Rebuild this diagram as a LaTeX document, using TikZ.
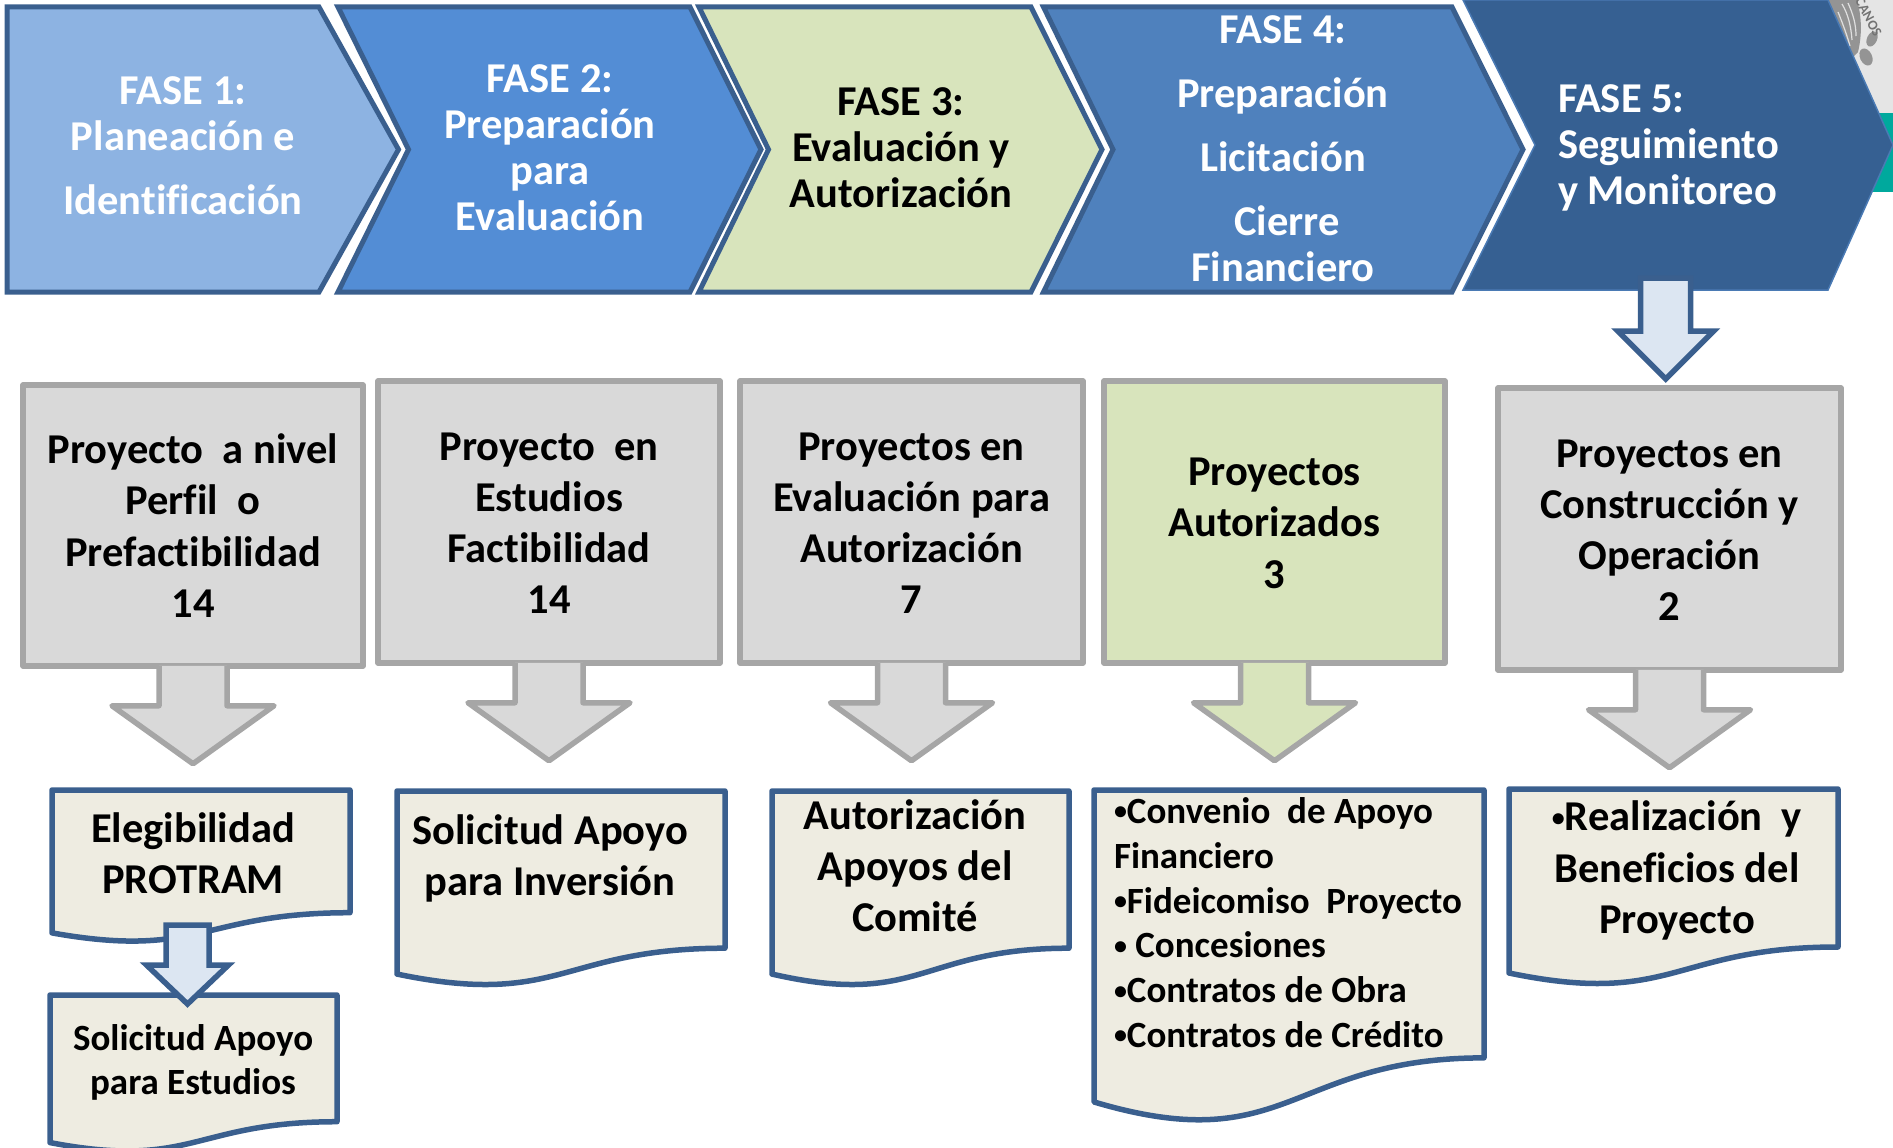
\documentclass[tikz,border=0pt]{standalone}
\usepackage{fontspec}
\setmainfont[Ligatures=CommonOff]{Carlito}
\definecolor{bordeazul}{HTML}{3A5F8E}
\definecolor{fase1}{HTML}{8DB3E2}
\definecolor{fase2}{HTML}{538DD5}
\definecolor{fase3}{HTML}{D8E4BC}
\definecolor{fase4}{HTML}{4F81BD}
\definecolor{fase5}{HTML}{366092}
\definecolor{gris}{HTML}{D9D9D9}
\definecolor{bordegris}{HTML}{A6A6A6}
\definecolor{papel}{HTML}{EEECE1}
\definecolor{flecha}{HTML}{DCE6F2}
\definecolor{verde}{HTML}{00A99D}
\tikzset{
  x=1pt,y=-1pt,
  chevron/.style={draw=bordeazul,line width=5pt,line join=miter},
  fasetxt/.style={font=\fontsize{42.5}{46}\selectfont\bfseries,align=center,text=white},
  grisbox/.style={draw=bordegris,fill=gris,line width=5.5pt,line join=round,inner sep=0pt},
  cajatxt/.style={align=center,font=\fontsize{42.5}{51.2}\selectfont\bfseries},
  doc/.style={draw=bordeazul,fill=papel,line width=5.5pt,line join=round},
  doctxt/.style={font=\fontsize{42.5}{51.2}\selectfont\bfseries,align=center},
  grisflecha/.style={draw=bordegris,fill=gris,line width=5.5pt,line join=round},
  azulflecha/.style={draw=bordeazul,fill=flecha,line width=5.5pt,line join=miter},
  sellotrazo/.style={draw=black!12,line width=1.2pt},
}
\newcommand\bul{\raisebox{0.1em}{\fontsize{26}{26}\selectfont •}}
\newcommand\chevronshape[5]{% fill l notch r tip
  \draw[chevron,fill=#1] (#2,7)--(#4,7)--(#5,149.5)--(#4,292)--(#2,292)--(#3,149.5)--cycle;}
\newcommand\docshape[5]{% name l t r h
  \draw[doc] (#2,#3)--(#4,#3)--(#4,{#3+0.802*#5})
    .. controls ({(#2+#4)/2},{#3+0.802*#5}) and ({(#2+#4)/2},{#3+1.1075*#5}) .. (#2,{#3+0.934*#5})--cycle;
  \coordinate (#1) at ({(#2+#4)/2},#3);}
\newcommand\blockarrow[6]{% style anchor halfshaft halfhead headstart tip
  \draw[#1,shift={(#2)}] (-#3,0)--(-#3,#5)--(-#4,#5)--(0,#6)--(#4,#5)--(#3,#5)--(#3,0)--cycle;}
\newcommand\openarrow[6]{% same, with no line across the top, and its fill over the box border
  \draw[#1,shift={(#2)}] (-#3,-3)--(-#3,#5)--(-#4,#5)--(0,#6)--(#4,#5)--(#3,#5)--(#3,-3);}
\begin{document}
\begin{tikzpicture}
\useasboundingbox (0,0) rectangle (1893,1148);
% fondo de la esquina
\fill[black!10] (1700,0) rectangle (1893,113);
\fill[verde] (1700,113) rectangle (1893,192);
% sello
\fill[black!42] (1825,0)--(1857,0) .. controls (1862,18) and (1862,35) .. (1858,52) -- (1852,58) -- cycle;
\draw[sellotrazo] (1842,4) .. controls (1848,14) and (1851,26) .. (1852,40);
\draw[sellotrazo] (1848,3) .. controls (1853,14) and (1856,24) .. (1856,36);
\draw[sellotrazo] (1838,12) .. controls (1842,22) and (1846,32) .. (1850,46);
\fill[black!42,rotate around={-25:(1872,39)}] (1872,39) ellipse (5pt and 8pt);
\fill[black!42,rotate around={25:(1866,57)}] (1866,57) ellipse (6pt and 9pt);
\node[rotate=-62,text=black!55,font=\fontsize{14}{14}\selectfont\bfseries,inner sep=0pt] (sello) at (1868.5,17) {CANOS};
% fases
\draw[chevron,fill=fase1] (7,7)--(319,7)--(398.5,149.5)--(319,292)--(7,292)--cycle;
\chevronshape{fase2}{338}{408.5}{690}{761}
\chevronshape{fase3}{699}{768.5}{1031}{1102}
\chevronshape{fase4}{1043.5}{1113}{1452}{1523}
\draw[draw=fase4!80!fase5,line width=1.5pt,fill=fase5] (1463,0)--(1828,0)--(1893,145)--(1828,290)--(1463,290)--(1535,145)--cycle;
\node[fasetxt] (t1) at (183,146) {FASE 1:\\Planeación e\\[18pt]Identificación};
\node[fasetxt] (t2) at (550,148) {FASE 2:\\Preparación\\para\\Evaluación};
\node[fasetxt,text=black] (t3) at (901,148) {FASE 3:\\Evaluación y\\Autorización};
\node[fasetxt] (t4) at (1283,149) {FASE 4:\\[18pt]Preparación\\[18pt]Licitación\\[18pt]\hspace*{8pt}Cierre\\Financiero};
\node[fasetxt,align=left,anchor=west] (t5) at (1554.5,147.5) {FASE 5:\\Seguimiento\\y Monitoreo};
% cajas grises
\node[grisbox,minimum width=340pt,minimum height=281pt] (b1) at (193,525.5) {};
\node[grisbox,minimum width=342pt,minimum height=282pt] (b2) at (549,522) {};
\node[grisbox,minimum width=343pt,minimum height=282pt] (b3) at (911.5,522) {};
\node[grisbox,fill=fase3,minimum width=341pt,minimum height=282pt] (b4) at (1274.5,522) {};
\node[grisbox,minimum width=343pt,minimum height=282pt] (b5) at (1669.5,529) {};
\node[cajatxt] (c1) at (b1) {Proyecto\ \ a nivel\\Perfil\ \ o\\Prefactibilidad\\14};
\node[cajatxt,yshift=-1.2pt] (c2) at (b2) {Proyecto\ \ en\\Estudios\\Factibilidad\\14};
\node[cajatxt,yshift=-1.2pt] (c3) at (b3) {Proyectos en\\Evaluación para\\Autorización\\7};
\node[cajatxt,yshift=-1.2pt] (c4) at (b4) {Proyectos\\Autorizados\\3};
\node[cajatxt,yshift=-1.2pt] (c5) at (b5) {Proyectos en\\Construcción y\\Operación\\2};
% flechas grises
\openarrow{grisflecha}{b1.south}{34}{81}{37}{95}
\openarrow{grisflecha}{b2.south}{34}{81}{37}{95}
\openarrow{grisflecha}{b3.south}{34}{81}{37}{95}
\openarrow{grisflecha,fill=fase3}{b4.south}{34}{81}{37}{95}
\openarrow{grisflecha}{b5.south}{34}{81}{37}{95}
% flecha fase 5
\coordinate (f5) at (1665.7,278);
\blockarrow{azulflecha}{f5}{25}{48}{53}{101}
% documentos
\docshape{d1}{52}{790}{350}{153}
\docshape{d2}{50}{995}{337}{158}
\docshape{d3}{397}{791}{725}{196}
\docshape{d4}{772}{791}{1069}{196}
\docshape{d5}{1094}{790}{1484}{334}
\docshape{d6}{1509}{789}{1838}{197}
\coordinate (f1) at (187.5,925);
\blockarrow{azulflecha}{f1}{21.5}{41}{40}{79}
\node[doctxt] (e1) at (193,853) {Elegibilidad\\PROTRAM};
\node[doctxt,font=\fontsize{37}{44}\selectfont\bfseries] (e2) at (193,1062) {Solicitud Apoyo\\para Estudios};
\node[doctxt] (e3) at (550,858.5) {Solicitud Apoyo\\para Inversión};
\node[doctxt] (e4) at (915,865.5) {Autorización\\Apoyos del\\Comité};
\node[doctxt,align=left,anchor=north west,font=\fontsize{37}{44.8}\selectfont\bfseries] (e5) at (1110.5,794) {\bul Convenio\ \ de Apoyo\\Financiero\\\bul Fideicomiso\ \ Proyecto\\\bul\ Concesiones\\\bul Contratos de Obra\\\bul Contratos de Crédito};
\node[doctxt] (e6) at (1677,870.5) {\bul Realización\ \ y\\Beneficios del\\Proyecto};
\end{tikzpicture}
\end{document}
